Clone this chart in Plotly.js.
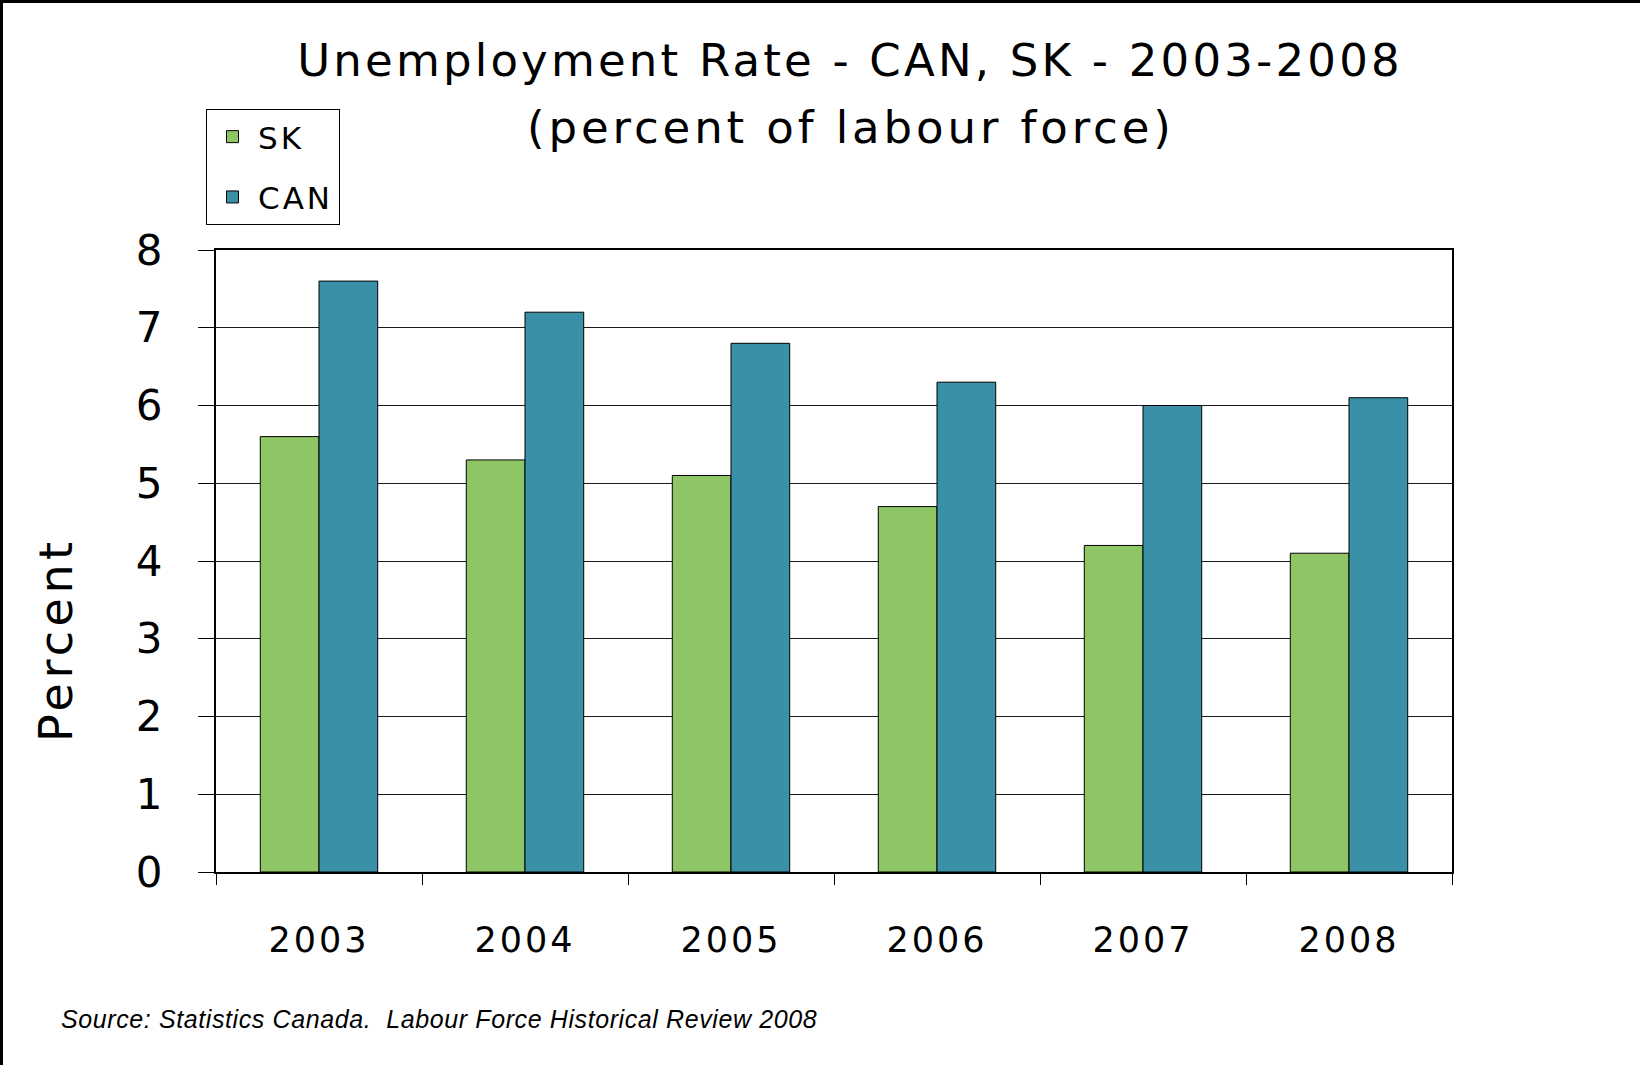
<!DOCTYPE html>
<html>
<head>
<meta charset="utf-8">
<script src="https://cdn.plot.ly/plotly-3.0.1.min.js"></script>
<style>
html, body { margin: 0; padding: 0; background: #fff; }
#chart { width: 1640px; height: 1065px; }
text { letter-spacing: 3px; }
</style>
</head>
<body>
<div id="chart"></div>
<script>
// ---- data ----
var years = ['2003', '2004', '2005', '2006', '2007', '2008'];
var skRate = [5.6, 5.3, 5.1, 4.7, 4.2, 4.1];
var canRate = [7.6, 7.2, 6.8, 6.3, 6.0, 6.1];
var yTicks = [0, 1, 2, 3, 4, 5, 6, 7, 8];
var seriesNames = ['SK', 'CAN'];
var titleLine1 = 'Unemployment Rate - CAN, SK - 2003-2008';
var titleLine2 = '(percent of labour force)';
var yTitle = 'Percent';
var sourceNote = 'Source: Statistics Canada.  Labour Force Historical Review 2008';

// ---- layout geometry ----
var W = 1640, H = 1065;
var mL = 216, mR = 188, mT = 250, mB = 193;
var pw = W - mL - mR, ph = H - mT - mB;
function px(x) { return (x - mL) / pw; }
function py(y) { return (H - mB - y) / ph; }

var font = 'DejaVu Sans, Verdana, sans-serif';

var traces = [
  {
    type: 'bar', name: seriesNames[0], x: years, y: skRate,
    legendgroup: 'g1',
    marker: { color: '#8EC665', line: { color: '#000', width: 1 } },
    hoverinfo: 'x+y+name'
  },
  {
    type: 'bar', name: seriesNames[1], x: years, y: canRate,
    legendgroup: 'g2',
    marker: { color: '#3A91A7', line: { color: '#000', width: 1 } },
    hoverinfo: 'x+y+name'
  }
];

var layout = {
  width: W, height: H,
  margin: { l: mL, r: mR, t: mT, b: mB, pad: 0, autoexpand: false },
  paper_bgcolor: '#fff', plot_bgcolor: '#fff',
  font: { family: font, color: '#000' },
  barmode: 'group', bargap: 0.43, bargroupgap: 0,
  title: {
    text: '<span style="letter-spacing:3.2px">' + titleLine1 + '</span>',
    font: { family: font, size: 45, color: '#000' },
    x: 850 / W, xref: 'container', xanchor: 'center',
    y: 1 - 60 / H, yref: 'container', yanchor: 'middle'
  },
  showlegend: true,
  legend: {
    xref: 'container', yref: 'container',
    x: 206 / W, y: 1 - 109 / H, xanchor: 'left', yanchor: 'top',
    bordercolor: '#000', borderwidth: 1, bgcolor: '#fff',
    font: { family: font, size: 31, color: '#000' },
    traceorder: 'grouped', tracegroupgap: 17,
    itemwidth: 41
  },
  xaxis: {
    type: 'category', automargin: false,
    showline: true, linecolor: '#000', linewidth: 2, mirror: true,
    ticks: 'outside', tickson: 'boundaries', ticklen: 11, tickcolor: '#000', tickwidth: 1,
    tickfont: { family: font, size: 35, color: '#000' },
    ticklabelstandoff: 36,
    showgrid: false, zeroline: false, fixedrange: true
  },
  yaxis: {
    range: [0, 8], tickvals: yTicks, automargin: false,
    showline: true, linecolor: '#000', linewidth: 2, mirror: true,
    ticks: 'outside', ticklen: 16, tickcolor: '#000', tickwidth: 1,
    tickfont: { family: font, size: 42, color: '#000' },
    ticklabelstandoff: 24,
    showgrid: true, gridcolor: '#1a1a1a', gridwidth: 1,
    zeroline: false, fixedrange: true
  },
  annotations: [
    {
      text: '<span style="letter-spacing:4.5px">' + yTitle + '</span>', textangle: -90, showarrow: false,
      xref: 'paper', yref: 'paper', x: px(56), y: py(640),
      xanchor: 'center', yanchor: 'middle',
      font: { family: font, size: 46, color: '#000' }
    },
    {
      text: '<span style="letter-spacing:3.9px">' + titleLine2 + '</span>', showarrow: false,
      xref: 'paper', yref: 'paper', x: px(851), y: py(127),
      xanchor: 'center', yanchor: 'middle',
      font: { family: font, size: 45, color: '#000' }
    },
    {
      text: '<span style="letter-spacing:0.6px"><i>' + sourceNote + '</i></span>', showarrow: false,
      xref: 'paper', yref: 'paper', x: px(59), y: py(1019),
      xanchor: 'left', yanchor: 'middle',
      font: { family: 'Liberation Sans, Arial, sans-serif', size: 25, color: '#000' }
    }
  ],
  shapes: [
    { type: 'line', xref: 'paper', yref: 'paper', x0: px(1.5), x1: px(1.5), y0: py(0), y1: py(H), line: { color: '#000', width: 3 } },
    { type: 'line', xref: 'paper', yref: 'paper', x0: px(0), x1: px(W), y0: py(1.5), y1: py(1.5), line: { color: '#000', width: 3 } }
  ]
};

Plotly.newPlot('chart', traces, layout, { displayModeBar: false });
</script>
</body>
</html>
